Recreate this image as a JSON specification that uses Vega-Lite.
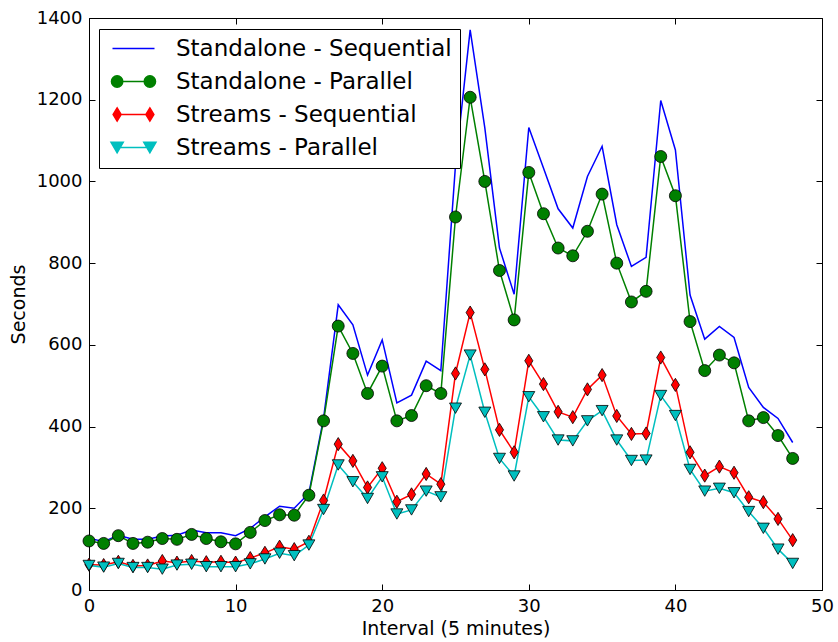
{
  "$schema": "https://vega.github.io/schema/vega-lite/v6.json",
  "width": 733,
  "height": 572,
  "autosize": {"type": "none"},
  "padding": {"left": 89, "top": 18, "right": 16, "bottom": 52},
  "background": "white",
  "config": {
    "font": "DejaVu Sans",
    "view": {"stroke": "black", "strokeWidth": 1},
    "legend": {"strokeWidth": 1},
    "axis": {
      "labelFont": "DejaVu Sans", "labelFontSize": 18, "labelColor": "black", "labelFlush": false, "labelOverlap": false,
      "titleFont": "DejaVu Sans", "titleFontSize": 19, "titleFontWeight": "normal", "titleColor": "black",
      "domainColor": "black", "tickColor": "black", "grid": false,
      "tickSize": -6, "labelPadding": 13
    }
  },
  "data": {"values": [
    {"t": 0, "Standalone - Sequential": 127, "Standalone - Parallel": 120, "Streams - Sequential": 62, "Streams - Parallel": 60},
    {"t": 1, "Standalone - Sequential": 118, "Standalone - Parallel": 114, "Streams - Sequential": 61, "Streams - Parallel": 56},
    {"t": 2, "Standalone - Sequential": 134, "Standalone - Parallel": 133, "Streams - Sequential": 69, "Streams - Parallel": 65},
    {"t": 3, "Standalone - Sequential": 124, "Standalone - Parallel": 114, "Streams - Sequential": 59, "Streams - Parallel": 55},
    {"t": 4, "Standalone - Sequential": 124, "Standalone - Parallel": 117, "Streams - Sequential": 60, "Streams - Parallel": 55},
    {"t": 5, "Standalone - Sequential": 132, "Standalone - Parallel": 126, "Streams - Sequential": 71, "Streams - Parallel": 51},
    {"t": 6, "Standalone - Sequential": 134, "Standalone - Parallel": 124, "Streams - Sequential": 67, "Streams - Parallel": 61},
    {"t": 7, "Standalone - Sequential": 147, "Standalone - Parallel": 136, "Streams - Sequential": 71, "Streams - Parallel": 63},
    {"t": 8, "Standalone - Sequential": 140, "Standalone - Parallel": 126, "Streams - Sequential": 68, "Streams - Parallel": 57},
    {"t": 9, "Standalone - Sequential": 140, "Standalone - Parallel": 118, "Streams - Sequential": 69, "Streams - Parallel": 57},
    {"t": 10, "Standalone - Sequential": 133, "Standalone - Parallel": 113, "Streams - Sequential": 67, "Streams - Parallel": 57},
    {"t": 11, "Standalone - Sequential": 151, "Standalone - Parallel": 141, "Streams - Sequential": 78, "Streams - Parallel": 64},
    {"t": 12, "Standalone - Sequential": 179, "Standalone - Parallel": 170, "Streams - Sequential": 91, "Streams - Parallel": 76},
    {"t": 13, "Standalone - Sequential": 205, "Standalone - Parallel": 184, "Streams - Sequential": 106, "Streams - Parallel": 90},
    {"t": 14, "Standalone - Sequential": 200, "Standalone - Parallel": 183, "Streams - Sequential": 100, "Streams - Parallel": 84},
    {"t": 15, "Standalone - Sequential": 237, "Standalone - Parallel": 232, "Streams - Sequential": 118, "Streams - Parallel": 110},
    {"t": 16, "Standalone - Sequential": 420, "Standalone - Parallel": 414, "Streams - Sequential": 219, "Streams - Parallel": 197},
    {"t": 17, "Standalone - Sequential": 698, "Standalone - Parallel": 646, "Streams - Sequential": 357, "Streams - Parallel": 306},
    {"t": 18, "Standalone - Sequential": 649, "Standalone - Parallel": 579, "Streams - Sequential": 316, "Streams - Parallel": 265},
    {"t": 19, "Standalone - Sequential": 526, "Standalone - Parallel": 481, "Streams - Sequential": 251, "Streams - Parallel": 224},
    {"t": 20, "Standalone - Sequential": 612, "Standalone - Parallel": 548, "Streams - Sequential": 298, "Streams - Parallel": 277},
    {"t": 21, "Standalone - Sequential": 458, "Standalone - Parallel": 414, "Streams - Sequential": 216, "Streams - Parallel": 186},
    {"t": 22, "Standalone - Sequential": 477, "Standalone - Parallel": 427, "Streams - Sequential": 234, "Streams - Parallel": 196},
    {"t": 23, "Standalone - Sequential": 560, "Standalone - Parallel": 500, "Streams - Sequential": 284, "Streams - Parallel": 242},
    {"t": 24, "Standalone - Sequential": 537, "Standalone - Parallel": 481, "Streams - Sequential": 259, "Streams - Parallel": 228},
    {"t": 25, "Standalone - Sequential": 1040, "Standalone - Parallel": 913, "Streams - Sequential": 530, "Streams - Parallel": 445},
    {"t": 26, "Standalone - Sequential": 1371, "Standalone - Parallel": 1206, "Streams - Sequential": 679, "Streams - Parallel": 575},
    {"t": 27, "Standalone - Sequential": 1131, "Standalone - Parallel": 1000, "Streams - Sequential": 540, "Streams - Parallel": 435},
    {"t": 28, "Standalone - Sequential": 837, "Standalone - Parallel": 782, "Streams - Sequential": 392, "Streams - Parallel": 322},
    {"t": 29, "Standalone - Sequential": 724, "Standalone - Parallel": 661, "Streams - Sequential": 337, "Streams - Parallel": 279},
    {"t": 30, "Standalone - Sequential": 1132, "Standalone - Parallel": 1022, "Streams - Sequential": 561, "Streams - Parallel": 473},
    {"t": 31, "Standalone - Sequential": 1033, "Standalone - Parallel": 921, "Streams - Sequential": 504, "Streams - Parallel": 424},
    {"t": 32, "Standalone - Sequential": 933, "Standalone - Parallel": 837, "Streams - Sequential": 436, "Streams - Parallel": 367},
    {"t": 33, "Standalone - Sequential": 886, "Standalone - Parallel": 818, "Streams - Sequential": 423, "Streams - Parallel": 365},
    {"t": 34, "Standalone - Sequential": 1012, "Standalone - Parallel": 878, "Streams - Sequential": 491, "Streams - Parallel": 414},
    {"t": 35, "Standalone - Sequential": 1086, "Standalone - Parallel": 969, "Streams - Sequential": 526, "Streams - Parallel": 439},
    {"t": 36, "Standalone - Sequential": 894, "Standalone - Parallel": 800, "Streams - Sequential": 426, "Streams - Parallel": 367},
    {"t": 37, "Standalone - Sequential": 792, "Standalone - Parallel": 705, "Streams - Sequential": 382, "Streams - Parallel": 317},
    {"t": 38, "Standalone - Sequential": 814, "Standalone - Parallel": 731, "Streams - Sequential": 383, "Streams - Parallel": 318},
    {"t": 39, "Standalone - Sequential": 1198, "Standalone - Parallel": 1061, "Streams - Sequential": 569, "Streams - Parallel": 476},
    {"t": 40, "Standalone - Sequential": 1077, "Standalone - Parallel": 965, "Streams - Sequential": 502, "Streams - Parallel": 427},
    {"t": 41, "Standalone - Sequential": 722, "Standalone - Parallel": 657, "Streams - Sequential": 337, "Streams - Parallel": 295},
    {"t": 42, "Standalone - Sequential": 614, "Standalone - Parallel": 537, "Streams - Sequential": 280, "Streams - Parallel": 242},
    {"t": 43, "Standalone - Sequential": 645, "Standalone - Parallel": 575, "Streams - Sequential": 302, "Streams - Parallel": 249},
    {"t": 44, "Standalone - Sequential": 618, "Standalone - Parallel": 556, "Streams - Sequential": 287, "Streams - Parallel": 238},
    {"t": 45, "Standalone - Sequential": 496, "Standalone - Parallel": 414, "Streams - Sequential": 227, "Streams - Parallel": 192},
    {"t": 46, "Standalone - Sequential": 447, "Standalone - Parallel": 422, "Streams - Sequential": 215, "Streams - Parallel": 151},
    {"t": 47, "Standalone - Sequential": 420, "Standalone - Parallel": 378, "Streams - Sequential": 174, "Streams - Parallel": 100},
    {"t": 48, "Standalone - Sequential": 361, "Standalone - Parallel": 322, "Streams - Sequential": 122, "Streams - Parallel": 65}
  ]},
  "transform": [
    {"fold": ["Standalone - Sequential", "Standalone - Parallel", "Streams - Sequential", "Streams - Parallel"], "as": ["series", "seconds"]}
  ],
  "encoding": {
    "x": {"field": "t", "type": "quantitative", "scale": {"domain": [0, 50], "nice": false, "zero": false}},
    "y": {"field": "seconds", "type": "quantitative", "scale": {"domain": [0, 1400], "nice": false}},
    "color": {
      "field": "series", "type": "nominal",
      "scale": {
        "domain": ["Standalone - Sequential", "Standalone - Parallel", "Streams - Sequential", "Streams - Parallel"],
        "range": ["#0000ff", "#008000", "#ff0000", "#00bfbf"]
      },
      "legend": {
        "orient": "none", "legendX": 10, "legendY": 11,
        "title": null,
        "fillColor": "white", "strokeColor": "black",
        "padding": 8, "cornerRadius": 0,
        "labelFont": "DejaVu Sans", "labelFontSize": 23, "labelColor": "black", "labelLimit": 0,
        "symbolSize": 400, "symbolOffset": 15, "labelOffset": 31, "rowPadding": 9, "symbolStrokeWidth": 1.5, "symbolOpacity": 1,
        "encode": {
          "symbols": {
            "update": {
              "shape": {"signal": "datum.value === 'Standalone - Sequential' ? 'M-2.1,0L2.1,0' : datum.value === 'Standalone - Parallel' ? 'M-1.071,0L1.071,0M-1.071,0C-1.071,0.313 -1.325,0.567 -1.638,0.567C-1.951,0.567 -2.205,0.313 -2.205,0C-2.205,-0.313 -1.951,-0.567 -1.638,-0.567C-1.325,-0.567 -1.071,-0.313 -1.071,0ZM2.205,0C2.205,0.313 1.951,0.567 1.638,0.567C1.325,0.567 1.071,0.313 1.071,0C1.071,-0.313 1.325,-0.567 1.638,-0.567C1.951,-0.567 2.205,-0.313 2.205,0Z' : datum.value === 'Streams - Sequential' ? 'M-1.238,0L1.238,0M-1.638,-0.651L-1.238,0L-1.638,0.651L-2.038,0ZM1.638,-0.651L2.038,0L1.638,0.651L1.238,0Z' : 'M-1.333,0L1.333,0M-2.248,-0.525L-1.028,-0.525L-1.638,0.525ZM1.028,-0.525L2.248,-0.525L1.638,0.525Z'"},
              "fill": {"signal": "scale('color', datum.value)"},
              "stroke": {"signal": "scale('color', datum.value)"}
            }
          }
        }
      }
    }
  },
  "layer": [
    {
      "mark": {"type": "line", "strokeWidth": 1.5},
      "encoding": {
        "x": {"field": "t", "type": "quantitative", "axis": {"orient": "bottom", "values": [0, 10, 20, 30, 40, 50], "title": "Interval (5 minutes)", "titlePadding": 4}},
        "y": {"field": "seconds", "type": "quantitative", "axis": {"orient": "left", "values": [0, 200, 400, 600, 800, 1000, 1200, 1400], "format": "d", "title": "Seconds", "titlePadding": 8}}
      }
    },
    {
      "transform": [{"filter": "datum.series !== 'Standalone - Sequential'"}],
      "mark": {"type": "point", "filled": true, "stroke": "black", "strokeWidth": 0.8, "opacity": 1, "size": 144},
      "encoding": {
        "x": {"field": "t", "type": "quantitative", "axis": {"orient": "top", "values": [0, 10, 20, 30, 40, 50], "labels": false, "domain": false, "title": null}},
        "y": {"field": "seconds", "type": "quantitative", "axis": {"orient": "right", "values": [0, 200, 400, 600, 800, 1000, 1200, 1400], "labels": false, "domain": false, "title": null}},
        "shape": {
          "field": "series", "type": "nominal", "legend": null,
          "scale": {
            "domain": ["Standalone - Parallel", "Streams - Sequential", "Streams - Parallel"],
            "range": ["circle", "M0,-1.1L0.68,0L0,1.1L-0.68,0Z", "triangle-down"]
          }
        }
      }
    }
  ],
  "resolve": {"axis": {"x": "independent", "y": "independent"}}
}
